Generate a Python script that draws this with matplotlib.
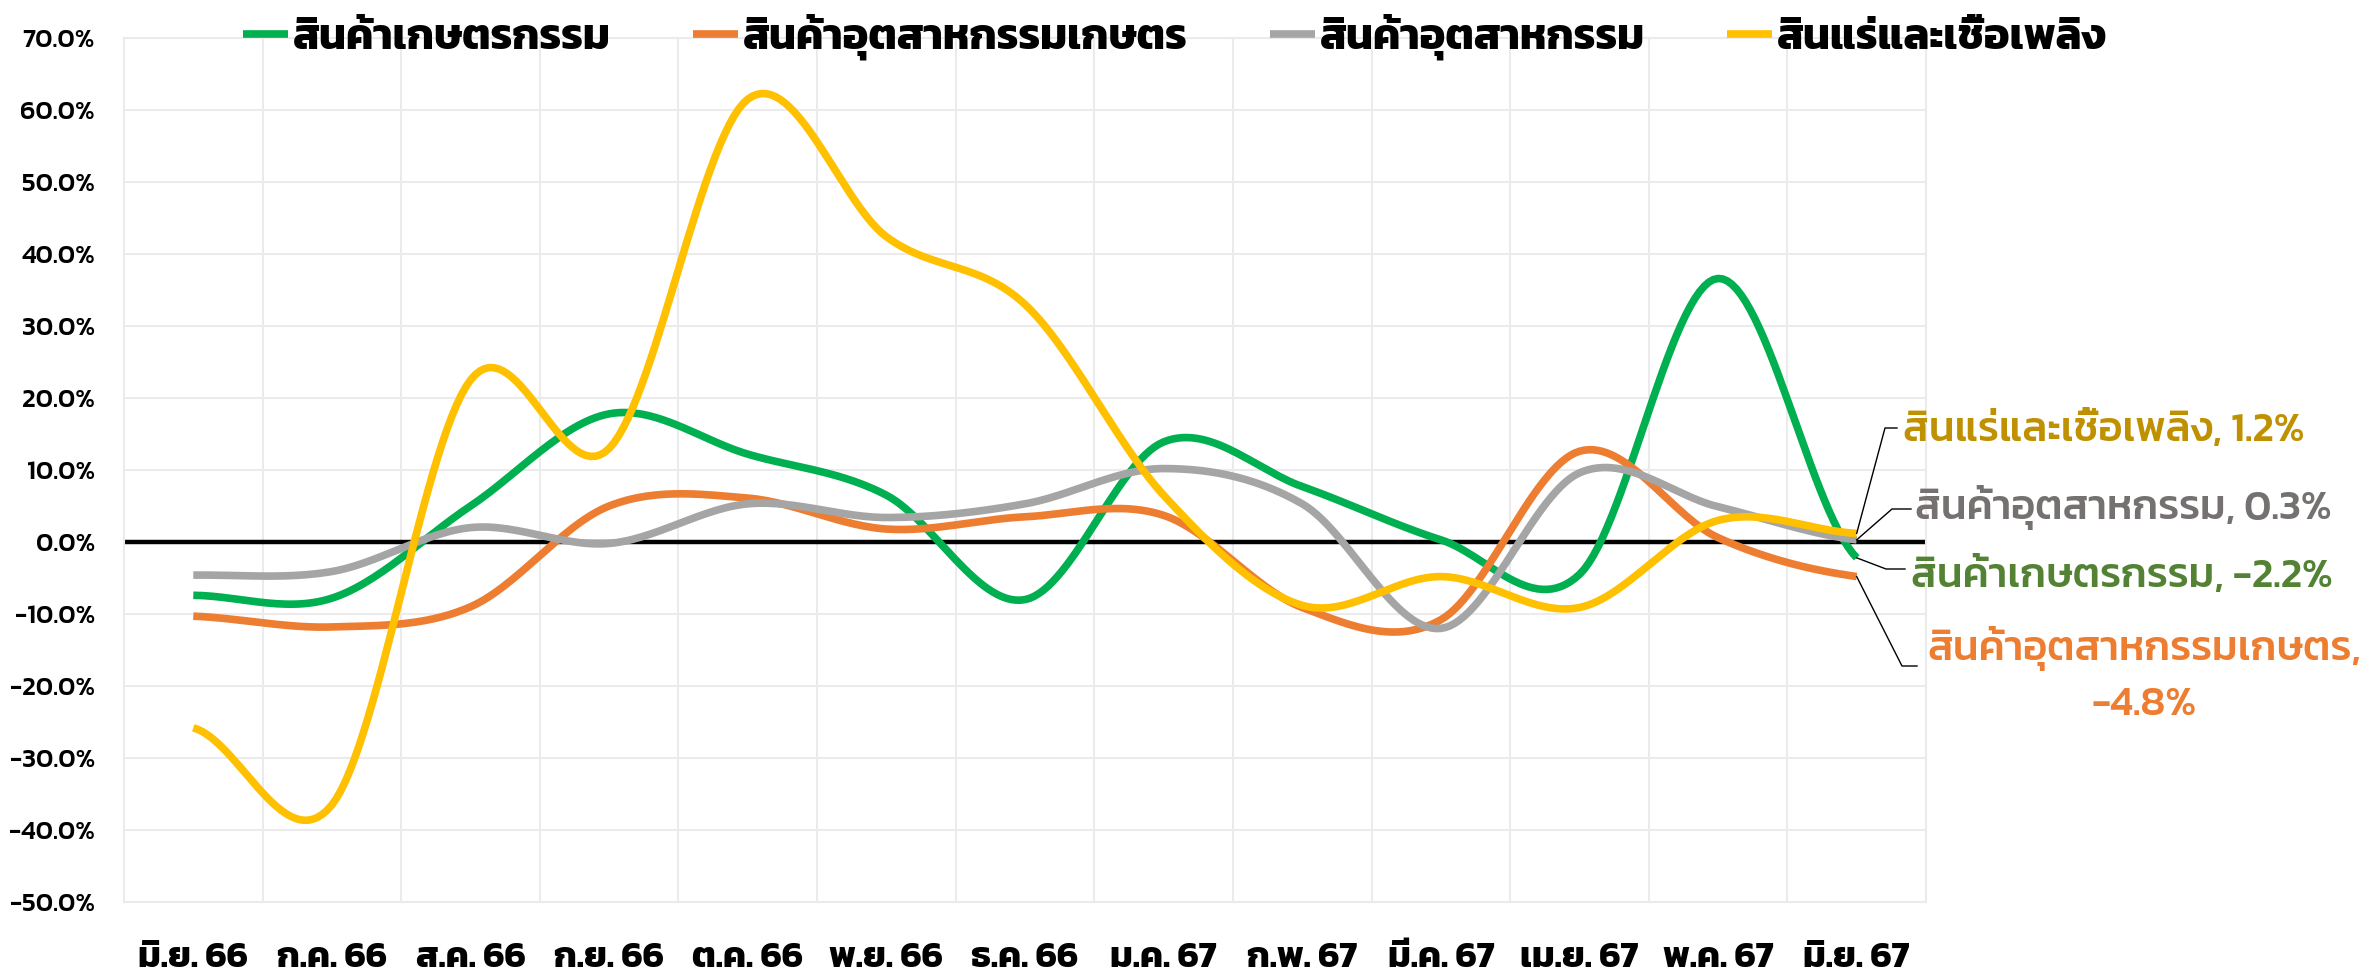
import numpy as np
import matplotlib
matplotlib.use("Agg")
import matplotlib.pyplot as plt
from matplotlib.lines import Line2D
from matplotlib.transforms import IdentityTransform

plt.rcParams['font.family'] = ['Kanit', 'DejaVu Sans']

# Thai export growth by product group (% YoY)
months = ['มิ.ย. 66', 'ก.ค. 66', 'ส.ค. 66', 'ก.ย. 66', 'ต.ค. 66', 'พ.ย. 66', 'ธ.ค. 66',
          'ม.ค. 67', 'ก.พ. 67', 'มี.ค. 67', 'เม.ย. 67', 'พ.ค. 67', 'มิ.ย. 67']
agri = [-7.4, -7.8, 5.0, 17.8, 12.2, 6.5, -8.0, 13.9, 7.7, 0.3, -4.5, 36.6, -2.2]
agro_ind = [-10.3, -11.8, -9.0, 5.0, 6.1, 1.8, 3.5, 3.7, -9.1, -10.8, 12.6, 0.6, -4.8]
industrial = [-4.6, -4.1, 2.0, -0.2, 5.3, 3.4, 5.3, 10.2, 5.3, -12.0, 9.6, 4.9, 0.3]
fuel = [-25.8, -36.5, 22.5, 13.0, 61.5, 42.4, 33.0, 6.5, -8.8, -4.8, -9.1, 3.0, 1.2]

names = ['สินค้าเกษตรกรรม', 'สินค้าอุตสาหกรรมเกษตร', 'สินค้าอุตสาหกรรม', 'สินแร่และเชื้อเพลิง']
colors = ['#00B050', '#ED7D31', '#A5A5A5', '#FFC000']
label_colors = ['#548235', '#ED7D31', '#767171', '#BF9000']


def smooth(y, n=30):
    """Excel-style smoothed line (uniform Catmull-Rom through the points)."""
    y = np.asarray(y, dtype=float)
    p = np.concatenate([[y[0]], y, [y[-1]]])
    xs, ys = [], []
    t = np.linspace(0, 1, n, endpoint=False)
    for i in range(len(y) - 1):
        p0, p1, p2, p3 = p[i], p[i + 1], p[i + 2], p[i + 3]
        seg = 0.5 * ((2 * p1) + (-p0 + p2) * t + (2 * p0 - 5 * p1 + 4 * p2 - p3) * t ** 2
                     + (-p0 + 3 * p1 - 3 * p2 + p3) * t ** 3)
        xs.append(i + t)
        ys.append(seg)
    xs.append([len(y) - 1])
    ys.append([y[-1]])
    return np.concatenate(xs), np.concatenate(ys)


fig = plt.figure(figsize=(23.74, 9.73), dpi=100)
ax = fig.add_axes([124 / 2374, 71 / 973, 1802 / 2374, 864 / 973])

grid_c = '#EBEBEB'
ax.set_xlim(-0.5, len(months) - 0.5)
ax.set_ylim(-50, 70)
ax.set_yticks(np.arange(-50, 71, 10))
ax.set_yticklabels([f'{v:.1f}%' for v in np.arange(-50, 71, 10)])
ax.set_xticks(range(len(months)))
ax.set_xticklabels(months)
ax.set_xticks(np.arange(0.5, len(months) - 1, 1), minor=True)
ax.grid(axis='y', color=grid_c, lw=1.5)
ax.grid(axis='x', which='minor', color=grid_c, lw=1.5)
ax.set_axisbelow(True)
for s in ax.spines.values():
    s.set_color(grid_c)
    s.set_linewidth(1.5)
ax.tick_params(axis='both', which='both', length=0)
ax.tick_params(axis='x', pad=29, labelsize=26)
ax.tick_params(axis='y', pad=21, labelsize=19)
for lab in ax.get_xticklabels():
    lab.set_fontweight('bold')
for lab in ax.get_yticklabels():
    lab.set_fontweight('medium')

ax.axhline(0, color='black', lw=3.2, zorder=2)

series = [agri, agro_ind, industrial, fuel]
handles = []
for vals, name, c in zip(series, names, colors):
    sx, sy = smooth(vals)
    h, = ax.plot(sx, sy, color=c, lw=5.5, solid_capstyle='butt', label=name, zorder=3)
    handles.append(h)

fig.legend(handles=handles, labels=names, loc='center', bbox_to_anchor=(0.495, 0.962),
           ncol=4, frameon=False, prop={'size': 31, 'weight': 'bold'},
           handlelength=1.05, handletextpad=0.12, columnspacing=1.9)

# data labels for the last month, with leader lines (figure pixels, origin bottom-left)
H = 973
last = len(months) - 1
label_spec = [
    # series index, bend (x, y), end x, text (x, y), ha
    (3, (1885, H - 428), 1897, (1903, H - 430), 'left'),
    (2, (1892, H - 509), 1911, (1915, H - 507), 'left'),
    (0, (1886, H - 569), 1905, (1911, H - 577), 'left'),
    (1, (1902, H - 666), 1917, (2144, H - 675), 'center'),
]
for idx, bend, end_x, txy, ha in label_spec:
    val = series[idx][last]
    px, py = ax.transData.transform((last, val))
    fig.add_artist(Line2D([px, bend[0], end_x], [py, bend[1], bend[1]],
                          transform=IdentityTransform(), color='black', lw=1))
    txt = f'{names[idx]}, {val:.1f}%'
    if idx == 1:
        txt = f'{names[idx]},\n{val:.1f}%'
    fig.text(txy[0] / 2374, txy[1] / H, txt, ha=ha, va='center', color=label_colors[idx],
             fontsize=30, fontweight='medium', linespacing=1.6, multialignment='center')

fig.savefig('out.png', dpi=100)
